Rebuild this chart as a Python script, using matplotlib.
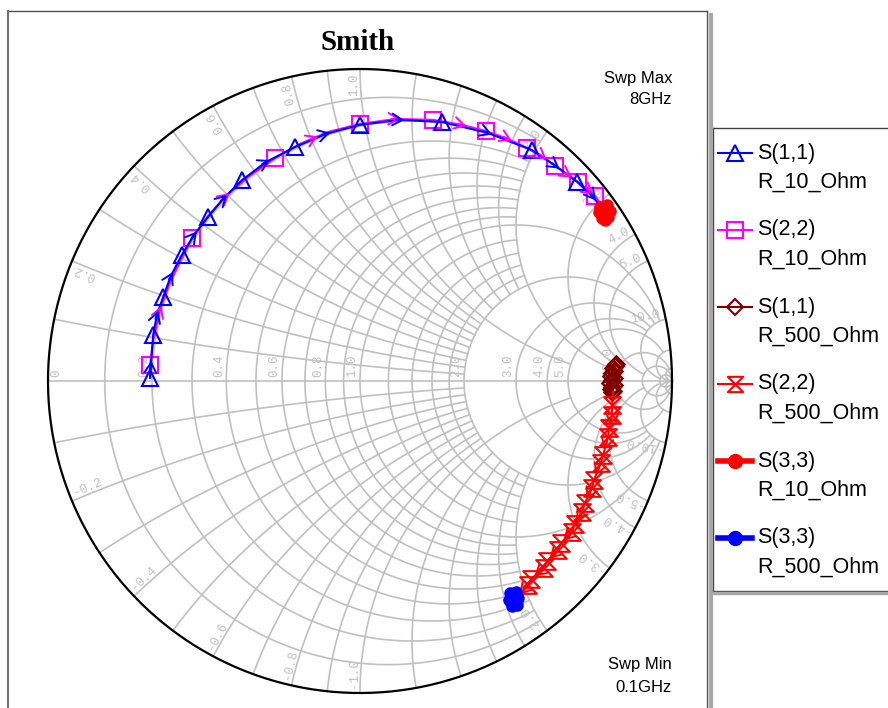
import numpy as np
import matplotlib.pyplot as plt
from matplotlib.path import Path
from matplotlib.lines import Line2D
from matplotlib import font_manager

W, H = 888, 708
CX, CY, RAD = 360, 381, 312          # chart centre / radius in pixels

s11_r10_re = [-0.673, -0.670, -0.663, -0.651, -0.631, -0.606, -0.571, -0.532,
              -0.487, -0.436, -0.378, -0.301, -0.208, -0.109, 0.000, 0.128,
              0.263, 0.410, 0.551, 0.628, 0.696, 0.747, 0.785]
s11_r10_im = [0.010, 0.051, 0.147, 0.212, 0.269, 0.337, 0.404, 0.468,
              0.526, 0.587, 0.644, 0.702, 0.750, 0.792, 0.821, 0.837,
              0.830, 0.795, 0.740, 0.689, 0.638, 0.590, 0.542]

s22_r10_re = [-0.673, -0.673, -0.663, -0.641, -0.609, -0.571, -0.538, -0.487,
              -0.429, -0.359, -0.272, -0.192, -0.103, 0.000, 0.115, 0.234,
              0.327, 0.404, 0.474, 0.535, 0.587, 0.625, 0.667, 0.699,
              0.737, 0.753, 0.788]
s22_r10_im = [0.010, 0.051, 0.131, 0.228, 0.317, 0.394, 0.458, 0.529,
              0.593, 0.654, 0.715, 0.760, 0.798, 0.824, 0.840, 0.837,
              0.821, 0.801, 0.776, 0.747, 0.718, 0.689, 0.660, 0.638,
              0.606, 0.593, 0.548]

s11_r500_re = [0.821, 0.817, 0.811, 0.814, 0.808, 0.804, 0.814, 0.808,
               0.801, 0.814, 0.808, 0.804, 0.811, 0.808]
s11_r500_im = [0.054, 0.048, 0.042, 0.032, 0.026, 0.016, 0.010, 0.003,
               -0.006, -0.013, -0.019, -0.026, -0.032, -0.035]

s22_r500_re = [0.811, 0.808, 0.808, 0.798, 0.795, 0.779, 0.772, 0.750, 0.744,
               0.721, 0.712, 0.689, 0.679, 0.644, 0.635, 0.599, 0.590, 0.548,
               0.538, 0.500]
s22_r500_im = [-0.035, -0.077, -0.109, -0.151, -0.179, -0.237, -0.263, -0.317,
               -0.343, -0.391, -0.420, -0.458, -0.484, -0.519, -0.542, -0.577,
               -0.599, -0.635, -0.654, -0.696]

s33_r10_re = [0.769, 0.792, 0.801, 0.795, 0.776, 0.766, 0.782, 0.785]
s33_r10_im = [0.558, 0.564, 0.545, 0.526, 0.522, 0.542, 0.542, 0.516]

s33_r500_re = [0.481, 0.500, 0.506, 0.494, 0.478, 0.487, 0.503, 0.490]
s33_r500_im = [-0.679, -0.676, -0.696, -0.708, -0.702, -0.721, -0.718, -0.692]

legend_top = ["S(1,1)", "S(2,2)", "S(1,1)", "S(2,2)", "S(3,3)", "S(3,3)"]
legend_bottom = ["R_10_Ohm", "R_10_Ohm", "R_500_Ohm", "R_500_Ohm",
                 "R_10_Ohm", "R_500_Ohm"]

r_labels = [0.2, 0.4, 0.6, 0.8, 1.0, 2.0, 3.0, 4.0, 5.0, 10.0]
x_labels = [0.2, 0.4, 0.6, 0.8, 1.0, 2.0, 3.0, 4.0, 5.0, 10.0]

GRID = "#c0c0c0"
BLUE, MAG, DRED, RED = "#0000ff", "#ff00ff", "#800000", "#ff0000"
HOURGLASS = Path([(-1, 1), (1, 1), (-1, -1), (1, -1), (-1, 1)],
                 [Path.MOVETO, Path.LINETO, Path.LINETO, Path.LINETO,
                  Path.CLOSEPOLY])

names = {f.name for f in font_manager.fontManager.ttflist}
NARROW = "Liberation Sans Narrow" if "Liberation Sans Narrow" in names else "Liberation Sans"

fig = plt.figure(figsize=(W / 100, H / 100), dpi=100)
ax = fig.add_axes([0, 0, 1, 1])
ax.set_xlim(-CX / RAD, (W - CX) / RAD)
ax.set_ylim(-(H - CY) / RAD, CY / RAD)
ax.axis("off")


def gamma(z):
    return (z - 1) / (z + 1)


def r_line(r, xmax):
    t = np.linspace(-np.arctan(xmax), np.arctan(xmax), 500)
    g = gamma(r + 1j * np.tan(t))
    ax.plot(g.real, g.imag, color=GRID, lw=1.2, zorder=1)


def x_line(x, rmax):
    t = np.linspace(0, np.arctan(rmax), 300)
    for s in (1, -1):
        g = gamma(np.tan(t) + 1j * s * x)
        ax.plot(g.real, g.imag, color=GRID, lw=1.2, zorder=1)


fine = [0.1, 0.2, 0.3, 0.4, 0.5, 0.6, 0.7, 0.8, 0.9, 1.2, 1.4, 1.6, 1.8]
for v in fine:
    r_line(v, 2)
    x_line(v, 2)
for v, lim in [(1.0, 10), (2, 10), (3, 10), (4, 10), (5, 20), (10, 50),
               (20, np.inf), (50, np.inf)]:
    r_line(v, lim)
for v, lim in [(1.0, 5), (2, 10), (3, 10), (4, 10), (5, 20), (10, 50),
               (20, np.inf), (50, np.inf)]:
    x_line(v, lim)
ax.plot([-1, 1], [0, 0], color=GRID, lw=1.2, zorder=1)

th = np.linspace(0, 2 * np.pi, 600)
ax.plot(np.cos(th), np.sin(th), color="black", lw=1.6, zorder=3)

lab = dict(family="Liberation Mono", fontsize=9, color=GRID,
           rotation_mode="anchor", zorder=2)
ax.text(-0.955, 4 / RAD, "0", rotation=90, ha="left", va="bottom", **lab)
for r in r_labels:
    g = (r - 1) / (r + 1)
    ax.text(g - 1.5 / RAD, 4 / RAD, f"{r:.1f}", rotation=90,
            ha="left", va="bottom", **lab)
for x in x_labels:
    t = np.arctan2(2 * x, x * x - 1)
    px, py = 0.985 * np.cos(t), 0.985 * np.sin(t)
    ax.text(px, py, f"{x:.1f}", rotation=np.degrees(t), ha="right",
            va="bottom", **lab)
    ax.text(px, -py, f"-{x:.1f}", rotation=180 - np.degrees(t), ha="left",
            va="bottom", **lab)


def arrow_marks(re, im, positions, color):
    pts = np.column_stack([re, im])
    for f in positions:
        i = int(f)
        d = pts[i + 1] - pts[i]
        p = pts[i] + (f - i) * d
        d = d / np.hypot(*d)
        ax.annotate("", xy=p + 0.014 * d, xytext=p - 0.014 * d,
                    arrowprops=dict(arrowstyle="->,head_length=0.6,head_width=0.35",
                                    color=color, lw=1.4, shrinkA=0, shrinkB=0,
                                    mutation_scale=12), zorder=6)


# traces
ax.plot(s22_r10_re, s22_r10_im, color=MAG, lw=1.5, marker="s", ms=11,
        mfc="none", mew=1.5, markevery=[1, 6, 10, 13, 15, 17, 19, 21, 23, 25],
        zorder=4)
arrow_marks(s22_r10_re, s22_r10_im, [3, 8, 11.5, 14, 16, 18, 20, 22, 24], MAG)

ax.plot(s11_r10_re, s11_r10_im, color=BLUE, lw=1.5, marker="^", ms=12,
        mfc="none", mew=1.5, markevery=list(range(0, 21, 2)), zorder=5)
arrow_marks(s11_r10_re, s11_r10_im, list(range(1, 22, 2)), BLUE)

ax.plot(s11_r500_re, s11_r500_im, color=DRED, lw=1.5, marker="D", ms=8,
        mfc="none", mew=1.8, zorder=5)

ax.plot(s22_r500_re, s22_r500_im, color=RED, lw=1.5, marker=HOURGLASS, ms=12,
        mfc="none", mew=1.5, markevery=list(range(1, 19)), zorder=5)
arrow_marks(s22_r500_re, s22_r500_im, [2.5, 4.5, 6.5, 8.5, 10.5, 12.5,
                                       14.5, 16.5, 18.5], RED)

ax.plot(s33_r10_re, s33_r10_im, color=RED, lw=3, marker="o", ms=8, zorder=7)
ax.plot(s33_r500_re, s33_r500_im, color=BLUE, lw=3, marker="o", ms=8, zorder=7)


# frame
def fline(x0, y0, x1, y1, color, lw):
    fig.add_artist(Line2D([x0 / W, x1 / W], [1 - y0 / H, 1 - y1 / H],
                          transform=fig.transFigure, color=color, lw=lw))


fline(8, 11, 707, 11, "#505050", 1.0)
fline(8, 11, 8, H, "#707070", 1.5)
fline(707, 11, 707, H, "#505050", 1.0)
fline(711, 15, 711, H, "#a8a8a8", 3.0)
fline(713, 593, W, 593, "#a8a8a8", 2.5)

fig.text(358 / W, 1 - 43 / H, "Smith", ha="center", va="center",
         family="Liberation Serif", fontweight="bold", fontsize=21)
for txt, y in [("Swp Max", 78), ("8GHz", 100), ("Swp Min", 665), ("0.1GHz", 688)]:
    fig.text(672 / W, 1 - y / H, txt, ha="right", va="center",
             family=NARROW, fontsize=12)

# legend
lax = fig.add_axes([713 / W, 1 - 591 / H, (W - 713) / W, 463 / H])
lax.set_xlim(0, W - 713)
lax.set_ylim(463, 0)
lax.set_xticks([])
lax.set_yticks([])
for side, sp in lax.spines.items():
    sp.set_color("#404040")
    sp.set_linewidth(1.0)
lax.spines["right"].set_visible(False)

styles = [
    dict(color=BLUE, lw=1.5, marker="^", ms=11, mfc="none", mew=1.5),
    dict(color=MAG, lw=1.5, marker="s", ms=11, mfc="none", mew=1.5),
    dict(color=DRED, lw=1.5, marker="D", ms=8, mfc="none", mew=1.5),
    dict(color=RED, lw=1.5, marker=HOURGLASS, ms=11, mfc="none", mew=1.5),
    dict(color=RED, lw=4, marker="o", ms=10),
    dict(color=BLUE, lw=4, marker="o", ms=10),
]
for k, (top, bottom, st) in enumerate(zip(legend_top, legend_bottom, styles)):
    y = 25 + 77 * k
    lax.plot([5, 22, 39], [y, y, y], markevery=[1], **st)
    lax.text(44, y, top, va="center", ha="left", family="Liberation Sans",
             fontsize=15.5)
    lax.text(44, y + 29, bottom, va="center", ha="left",
             family="Liberation Sans", fontsize=15.5)

fig.savefig("out.png", dpi=100)
